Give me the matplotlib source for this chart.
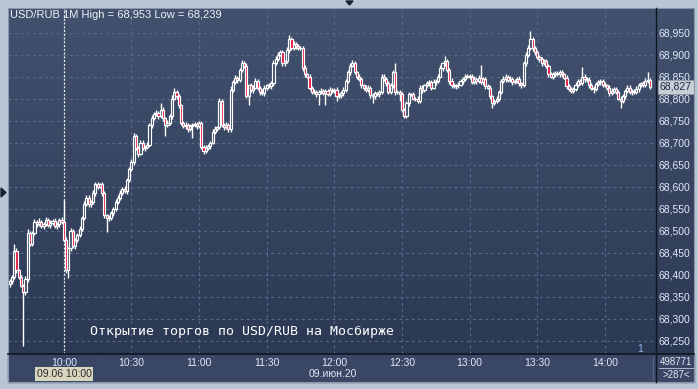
import numpy as np
import matplotlib
matplotlib.use("Agg")
import matplotlib.pyplot as plt
from matplotlib.patches import Rectangle, Polygon
from matplotlib.lines import Line2D
from matplotlib.colors import LinearSegmentedColormap
import matplotlib.transforms as mtransforms

plt.rcParams['font.family'] = ['Liberation Sans', 'DejaVu Sans']

# =========== данные ===========
# цены в пунктах выше 68,000 (1 пункт = 0,001), свечи по 1 минуте с 09:36
BASE = 68.0
first_start = "09:36"
first_open = 378
close_pts = [
    385, 395, 455, 410, 395, 375, 360, 390, 495, 470,
    495, 520, 515, 520, 510, 515, 525, 512, 518, 522,
    510, 515, 525, 520, 480, 410, 460, 500, 465, 480,
    490, 505, 530, 560, 575, 560, 565, 585, 605, 600,
    605, 585, 535, 530, 528, 540, 550, 565, 575, 585,
    595, 590, 615, 640, 655, 715, 688, 675, 700, 688,
    690, 695, 740, 755, 765, 768, 760, 775, 755, 740,
    745, 760, 800, 815, 805, 785, 745, 738, 740, 730,
    738, 740, 742, 738, 745, 690, 680, 688, 692, 700,
    725, 732, 735, 795, 740, 735, 740, 730, 820, 838,
    848, 842, 865, 880, 875, 805, 830, 820, 825, 840,
    825, 815, 812, 825, 830, 828, 835, 880, 890, 900,
    905, 880, 885, 910, 935, 915, 925, 920, 915, 915,
    870, 855, 850, 825, 815, 815, 810, 815, 818, 812,
    818, 810, 820, 818, 820, 805, 808, 812, 820, 840,
    860, 875, 880, 860, 850, 845, 830, 825, 820, 825,
    808, 805, 812, 810, 815, 850, 845, 835, 815, 830,
    860, 815, 815, 810, 775, 760, 790, 810, 810, 800,
    800, 795, 825, 820, 830, 835, 838, 825, 838, 840,
    850, 870, 880, 885, 865, 840, 830, 828, 830, 832,
    840, 845, 850, 852, 850, 838, 845, 840, 848, 837,
    845, 828, 825, 805, 790, 795, 800, 815, 840, 845,
    850, 843, 845, 838, 840, 845, 835, 830, 880, 900,
    915, 935, 915, 905, 895, 890, 880, 885, 875, 855,
    850, 855, 858, 856, 860, 855, 848, 828, 822, 818,
    822, 832, 840, 835, 850, 845, 842, 830, 825, 822,
    833, 838, 840, 832, 830, 825, 812, 818, 822, 815,
    800, 795, 805, 818, 825, 815, 818, 815, 822, 830,
    835, 832, 840, 842, 827,
]
# длина верхней / нижней тени, пункты
wick_up = [
    5, 4, 15, 6, 4, 5, 4, 6, 8, 5,
    4, 6, 5, 8, 5, 4, 7, 5, 6, 4,
    6, 5, 4, 6, 50, 5, 4, 6, 5, 4,
    5, 6, 4, 7, 5, 6, 4, 8, 5, 6,
    4, 6, 5, 4, 6, 5, 4, 6, 5, 7,
    5, 6, 4, 5, 7, 8, 5, 4, 6, 5,
    4, 6, 5, 7, 5, 6, 4, 15, 5, 4,
    6, 5, 8, 10, 5, 6, 4, 5, 6, 4,
    5, 4, 6, 5, 4, 5, 4, 6, 5, 4,
    6, 5, 4, 7, 5, 4, 6, 5, 8, 5,
    6, 4, 5, 8, 6, 5, 4, 6, 5, 7,
    5, 4, 6, 5, 4, 6, 5, 7, 6, 5,
    6, 5, 4, 7, 10, 5, 6, 4, 5, 4,
    5, 6, 4, 5, 4, 6, 5, 4, 6, 5,
    4, 5, 6, 4, 5, 6, 4, 5, 6, 5,
    6, 5, 8, 5, 4, 6, 5, 4, 6, 5,
    4, 5, 6, 4, 5, 6, 5, 4, 6, 5,
    5, 20, 4, 5, 6, 4, 5, 6, 4, 5,
    4, 5, 6, 5, 4, 6, 5, 4, 6, 5,
    5, 6, 4, 11, 5, 4, 6, 5, 4, 6,
    5, 4, 6, 5, 4, 5, 6, 4, 5, 29,
    5, 4, 6, 5, 4, 5, 6, 5, 4, 6,
    5, 4, 6, 5, 4, 5, 6, 4, 6, 5,
    6, 18, 5, 4, 6, 5, 4, 6, 5, 4,
    5, 6, 4, 5, 5, 6, 4, 5, 6, 4,
    5, 6, 4, 5, 23, 5, 4, 8, 5, 4,
    6, 5, 4, 5, 6, 4, 5, 6, 4, 5,
    4, 5, 6, 4, 5, 6, 4, 5, 6, 5,
    4, 5, 6, 19, 5,
]
wick_dn = [
    6, 5, 4, 6, 5, 4, 121, 5, 6, 4,
    5, 4, 6, 5, 4, 6, 5, 4, 5, 6,
    4, 5, 6, 4, 5, 6, 18, 5, 4, 6,
    5, 4, 6, 5, 4, 6, 5, 4, 6, 5,
    4, 6, 5, 34, 5, 4, 6, 5, 4, 6,
    5, 4, 6, 5, 4, 6, 5, 7, 4, 5,
    6, 4, 5, 6, 4, 5, 6, 4, 5, 25,
    4, 5, 6, 4, 5, 6, 4, 5, 6, 5,
    4, 28, 5, 6, 4, 5, 6, 4, 5, 6,
    4, 5, 6, 4, 5, 6, 4, 5, 6, 4,
    5, 6, 4, 5, 6, 4, 19, 5, 6, 4,
    5, 6, 4, 5, 6, 4, 5, 6, 4, 5,
    4, 6, 5, 4, 6, 5, 4, 6, 5, 4,
    6, 5, 4, 6, 5, 4, 6, 24, 5, 4,
    26, 5, 4, 6, 5, 10, 4, 6, 5, 4,
    5, 6, 4, 5, 6, 4, 5, 6, 4, 5,
    6, 15, 5, 4, 6, 5, 4, 6, 5, 4,
    5, 6, 4, 15, 5, 5, 4, 6, 5, 4,
    6, 5, 4, 6, 5, 4, 6, 5, 4, 6,
    5, 4, 6, 5, 4, 6, 5, 4, 6, 5,
    4, 6, 5, 4, 6, 5, 4, 6, 5, 4,
    6, 5, 4, 6, 12, 5, 4, 6, 5, 4,
    6, 5, 4, 6, 5, 4, 6, 5, 4, 6,
    5, 4, 6, 5, 4, 6, 5, 4, 6, 5,
    4, 6, 5, 4, 6, 5, 4, 6, 5, 6,
    4, 5, 6, 4, 5, 6, 4, 5, 6, 10,
    5, 4, 6, 5, 4, 6, 5, 4, 6, 5,
    4, 17, 5, 6, 4, 5, 6, 4, 5, 6,
    4, 5, 6, 4, 5,
]
time_labels = ["10:00", "10:30", "11:00", "11:30", "12:00", "12:30", "13:00", "13:30", "14:00"]
price_ticks = [250, 300, 350, 400, 450, 500, 550, 600, 650, 700, 750, 800, 850, 900, 950]
cursor_time = "10:00"

W, H = 698, 389
BG_TOP, BG_BOT = "#42516e", "#2c3954"
TXT = "#dfe8f6"


def fmt(v):
    return f"{v:.3f}".replace(".", ",")


def minute_idx(t):
    h, m = map(int, t.split(":"))
    h0, m0 = map(int, first_start.split(":"))
    return (h * 60 + m) - (h0 * 60 + m0)


def box(x0, y0, x1, y1):
    # пиксели (сверху вниз) -> доли фигуры
    return [x0 / W, 1 - y1 / H, (x1 - x0) / W, (y1 - y0) / H]


def pts(p):
    return [(x / W, 1 - y / H) for x, y in p]


fig = plt.figure(figsize=(W / 100, H / 100), dpi=100, facecolor="#b9c5d5")

# фон графика и правой шкалы
bg = fig.add_axes(box(8, 8, 694, 354))
grad = np.linspace(0, 1, 256).reshape(-1, 1)
bg.imshow(grad, aspect="auto", cmap=LinearSegmentedColormap.from_list("bg", [BG_TOP, BG_BOT]),
          extent=[0, 1, 0, 1])
bg.axis("off")
fig.add_artist(Rectangle((8 / W, 1 - 382 / H), 686 / W, 28 / H, transform=fig.transFigure,
                         color="#3a4764", zorder=0))

ax = fig.add_axes(box(8, 8, 656, 354))
ax.patch.set_alpha(0)

closes = BASE + np.array(close_pts) / 1000
opens = np.r_[BASE + first_open / 1000, closes[:-1]]
highs = np.maximum(opens, closes) + np.array(wick_up) / 1000
lows = np.minimum(opens, closes) - np.array(wick_dn) / 1000
x = np.arange(len(closes))
up = closes >= opens

ax.vlines(x, lows, highs, color="white", lw=1.0, zorder=3)
ax.bar(x[up], (closes - opens)[up], bottom=opens[up], width=0.95,
       color="#3a4866", edgecolor="white", linewidth=0.85, zorder=4)
ax.bar(x[~up], (opens - closes)[~up], bottom=closes[~up], width=0.95,
       color="#e3163f", edgecolor="white", linewidth=0.85, zorder=4)

ax.set_xlim(-0.75, 286.7)
ax.set_ylim(BASE + 0.2198, BASE + 1.0061)

ax.set_yticks([BASE + p / 1000 for p in price_ticks])
ax.set_yticklabels([fmt(BASE + p / 1000) for p in price_ticks])
ax.yaxis.tick_right()
ax.set_xticks([minute_idx(t) for t in time_labels])
ax.set_xticklabels(time_labels)
ax.tick_params(length=0, labelsize=7.5, labelcolor=TXT)
ax.tick_params(axis="y", pad=2)
ax.tick_params(axis="x", pad=3)
ax.grid(color="#5a6987", ls=(0, (2.5, 3)), lw=0.8, zorder=1)
for s in ax.spines.values():
    s.set_visible(False)

# курсор
ax.axvline(minute_idx(cursor_time), color="#f0f0f0", ls=(0, (1.5, 1.5)), lw=0.9, zorder=2)

# текущая цена
tr = mtransforms.blended_transform_factory(ax.transAxes, ax.transData)
ax.text(1.0 + 4 / 648, closes[-1], fmt(closes[-1]), transform=tr, ha="left", va="center",
        fontsize=7.5, color="#1c2a40", zorder=10, clip_on=False,
        bbox=dict(boxstyle="square,pad=0.2", fc="#c9ced7", ec="#8f99a8", lw=0.6))

# рамки и линии
fig.add_artist(Line2D([8 / W, 694 / W], [1 - 354 / H] * 2, color="#0e1520", lw=1.2))
fig.add_artist(Line2D([656 / W] * 2, [1 - 8 / H, 1 - 382 / H], color="#0e1520", lw=1.0))
fig.add_artist(Line2D([653 / W] * 2, [1 - 357 / H, 1 - 380 / H], color="#5a6580", lw=0.8))
fig.add_artist(Rectangle((8 / W, 1 - 382 / H), 686 / W, 374 / H, transform=fig.transFigure,
                         fill=False, ec="#8a97aa", lw=0.8))

# треугольники
fig.add_artist(Polygon(pts([(346, 1), (353, 1), (349.5, 5)]), closed=True, transform=fig.transFigure,
                       color="#1b2333"))
fig.add_artist(Polygon(pts([(1, 188), (1, 197), (6, 192.5)]), closed=True, transform=fig.transFigure,
                       color="#1b2333"))

# тексты
fig.text(10 / W, 1 - 15 / H, f"USD/RUB 1M High = {fmt(highs.max())} Low = {fmt(lows.min())}",
         ha="left", va="center", fontsize=8, color="#eef2f8")
fig.text(90 / W, 1 - 331 / H, "Открытие торгов по USD/RUB на Мосбирже",
         family=["DejaVu Sans Mono"], ha="left", va="center", fontsize=9.5, color="white")
fig.text(64 / W, 1 - 374 / H, "09.06 10:00", ha="center", va="center", fontsize=7.5,
         color="#2a2a2a", bbox=dict(boxstyle="square,pad=0.15", fc="#d9d6c0", ec="none"))
fig.text(333 / W, 1 - 374 / H, "09.июн.20", ha="center", va="center", fontsize=7.5, color=TXT)
fig.text(640 / W, 1 - 349 / H, "1", ha="center", va="center", fontsize=7.5, color="#8fb4e8")
fig.text(676 / W, 1 - 362 / H, "498771", ha="center", va="center", fontsize=7, color=TXT)
fig.add_artist(Line2D([659 / W, 693 / W], [1 - 368 / H] * 2, color="#c0c8d6", lw=0.6))
fig.text(676 / W, 1 - 375 / H, ">287<", ha="center", va="center", fontsize=7, color=TXT)

fig.savefig("out.png", dpi=100, facecolor=fig.get_facecolor())
